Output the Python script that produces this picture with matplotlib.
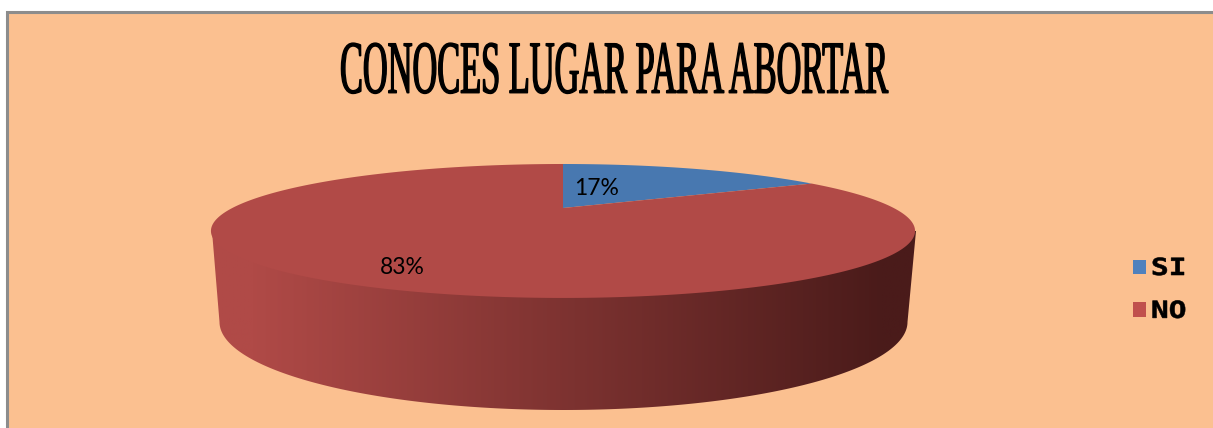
import numpy as np
import matplotlib
matplotlib.use("Agg")
import matplotlib.pyplot as plt
from matplotlib.colors import LinearSegmentedColormap
from matplotlib.patches import Polygon, Rectangle
from matplotlib.path import Path
from matplotlib.patheffects import AbstractPathEffect
from matplotlib.transforms import Affine2D, Transform

categories = ["SI", "NO"]
values = [17, 83]
title = "CONOCES LUGAR PARA ABORTAR"


class Perspective(Transform):
    """Maps the unit pie circle onto the tilted disc, in pixel coordinates."""
    input_dims = output_dims = 2
    is_separable = False
    has_inverted = False

    def transform_non_affine(self, xy):
        xy = np.asarray(xy, float)
        d = 1 + 0.343 * xy[:, 1]
        return np.column_stack((563 + 330.7 * xy[:, 0] / d, 208 - 59.1 * xy[:, 1] / d))

    def transform_path_non_affine(self, path):
        big = path.transformed(Affine2D().scale(1000)).to_polygons(closed_only=False)
        return Path(self.transform_non_affine(np.concatenate(big) / 1000))


class StretchX(AbstractPathEffect):
    """Squeezes or widens real text horizontally around a pixel x, with an optional outline."""
    def __init__(self, anchor, sx, stroke=0.0):
        super().__init__()
        self.anchor, self.sx, self.stroke = anchor, sx, stroke

    def draw_path(self, renderer, gc, tpath, affine, rgbFace=None):
        t = affine + Affine2D().translate(-self.anchor, 0).scale(self.sx, 1).translate(self.anchor, 0)
        g = renderer.new_gc()
        g.copy_properties(gc)
        g.set_linewidth(self.stroke)
        g.set_foreground("black")
        renderer.draw_path(g, tpath, t, rgbFace)
        g.restore()


fig = plt.figure(figsize=(12.13, 4.28), dpi=100, facecolor="white")
ax = fig.add_axes([0, 0, 1, 1])

wedges, _, pct = ax.pie(values, startangle=90, counterclock=False,
                        colors=["#4878B0", "#B14A47"], autopct="%1.0f%%",
                        textprops=dict(family="Lato", fontsize=16.5, color="black"))
persp = Perspective()
for w in wedges:
    w.set_transform(persp + ax.transData)
    w.set_zorder(3)
    w.set_edgecolor("none")

ax.add_patch(Rectangle((6.5, 11.5), 1300, 500, facecolor="#FBC090",
                       edgecolor="#8C8C8C", linewidth=2.2, zorder=0))

# side wall of the disc
t = np.linspace(np.pi, 0, 200)
wall = np.vstack(([(212, 231)], np.column_stack((563.5 + 344 * np.cos(t), 322 + 88 * np.sin(t))), [(916, 231)]))
stops = (np.linspace(212, 916, 512) - 250) / (885 - 250)
im = ax.imshow(np.clip(stops, 0, 1)[None, :], cmap=LinearSegmentedColormap.from_list("s", ["#B04A47", "#4A1B1A"]),
               extent=(212, 916, 415, 225), zorder=2, aspect="auto")
clip = Polygon(wall, closed=True, transform=ax.transData, facecolor="none", edgecolor="none")
ax.add_patch(clip)
im.set_clip_path(clip)

ax.set_aspect("auto")
ax.set_xlim(0, 1213)
ax.set_ylim(428, 0)

for txt, pos in zip(pct, [(597, 188), (402, 268)]):
    txt.set_position(pos)
    txt.set_transform(ax.transData)
    txt.set_ha("center")
    txt.set_va("center")
    txt.set_zorder(5)

ttl = ax.text(614, 75, title, ha="center", va="center", family="Liberation Serif",
              fontsize=54, color="black", zorder=5)
fig.canvas.draw()
w_px = ttl.get_window_extent().width
ttl.set_path_effects([StretchX(614, 548 / w_px, stroke=1.0)])

leg = ax.legend(wedges, categories, loc="upper left", bbox_to_anchor=(1133 / 1213, 1 - 256 / 428),
                frameon=False, borderpad=0, borderaxespad=0,
                handlelength=0.55, handleheight=0.55, handletextpad=0.21, labelspacing=0.8,
                prop=dict(family="DejaVu Sans Mono", weight="bold", size=17))
for h, c in zip(leg.get_patches(), ["#4F81BD", "#C0504D"]):
    h.set_facecolor(c)
    h.set_edgecolor("none")
for lt in leg.get_texts():
    lt.set_path_effects([StretchX(1151, 1.25, stroke=0.4)])
leg.set_zorder(6)

fig.savefig("out.png", dpi=100, facecolor="white")
